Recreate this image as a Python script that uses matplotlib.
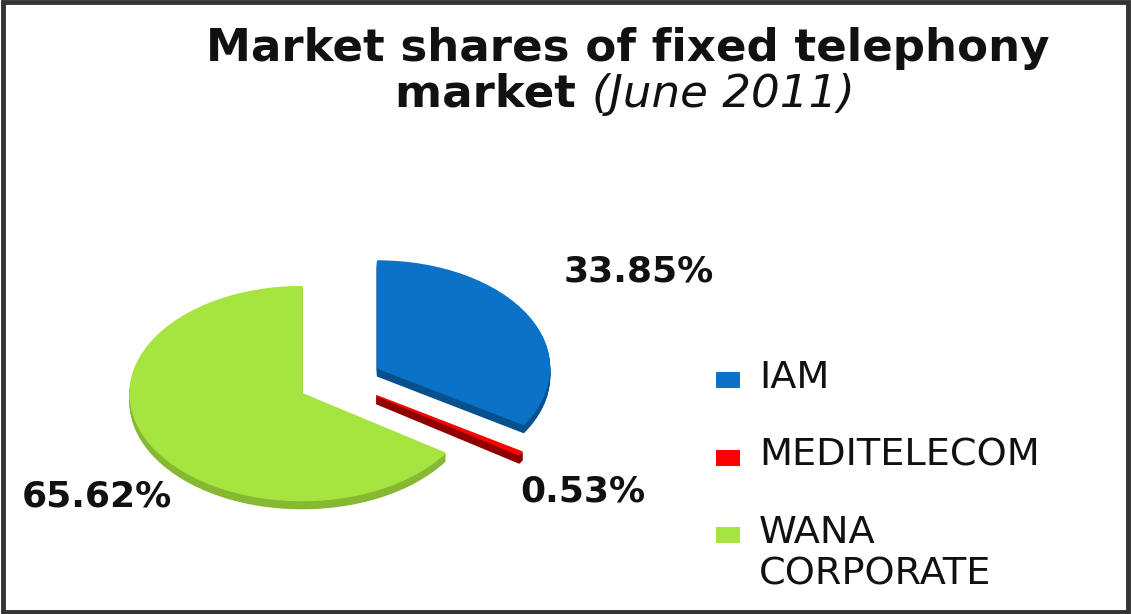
import numpy as np
import matplotlib.pyplot as plt
from matplotlib.patches import Rectangle

# dados
operadores = ["IAM", "MEDITELECOM", "WANA\nCORPORATE"]
parts = [33.85, 0.53, 65.62]
rotulos = ["33.85%", "0.53%", "65.62%"]

cores = ["#0A73C8", "#FF0000", "#A6E43F"]
cores_lado = ["#06508E", "#8E0000", "#86B832"]
explode = [0.25, 0.25, 0.25]

W, H = 1131, 614
fig = plt.figure(figsize=(W / 100, H / 100), dpi=100)
fig.patch.set_facecolor("white")

# eixo do pie: centro (sem explode) em (340, 381) px, raio 172 px em x e 107 px em y
cx, cy, sx, sy = 340, 381, 172.0, 107.0
top_px = 150
ax = fig.add_axes([0, 0, 700 / W, (H - top_px) / H])

# "espessura" 3D: camadas da mesma torta deslocadas para baixo, mais escuras
for dz in np.linspace(0.075, 0.01, 8):
    lados, _ = ax.pie(parts, colors=cores_lado, explode=explode, startangle=90,
                      counterclock=False, center=(0, -dz))
    for w, c in zip(lados, cores_lado):
        w.set_edgecolor(c)
        w.set_linewidth(1.0)
wedges, _ = ax.pie(parts, colors=cores, explode=explode, startangle=90,
                   counterclock=False)
for w, c in zip(wedges, cores):
    w.set_edgecolor(c)
    w.set_linewidth(1.0)

ax.set_aspect("auto")
ax.set_xlim(-cx / sx, (700 - cx) / sx)
ax.set_ylim(-(H - cy) / sy, (cy - top_px) / sy)
ax.axis("off")

# rótulos de porcentagem ao longo da bissetriz de cada fatia
dist = [(1.99, 2.1), (1.68, 1.91), (1.6, 2.3)]
for w, txt, (kx, ky) in zip(wedges, rotulos, dist):
    ang = np.deg2rad((w.theta1 + w.theta2) / 2)
    ax.text(kx * np.cos(ang), ky * np.sin(ang), txt, ha="center", va="center",
            fontsize=26, fontweight="bold", color="#111111")

# título
fig.text(628 / W, 1 - 48 / H, "Market shares of fixed telephony", ha="center",
         va="center", fontsize=32.5, fontweight="bold", color="#111111")
t_a = fig.text(0, 1 - 94 / H, "market ", ha="left", va="center",
               fontsize=32.5, fontweight="bold", color="#111111")
t_b = fig.text(0, 1 - 94 / H, "(June 2011)", ha="left", va="center",
               fontsize=32.5, fontstyle="italic", color="#111111")
r = fig.canvas.get_renderer()
wa = t_a.get_window_extent(r).width
wb = t_b.get_window_extent(r).width
x0 = 625 - (wa + wb) / 2
t_a.set_x(x0 / W)
t_b.set_x((x0 + wa) / W)

# legenda manual (quadrado alinhado com a primeira linha do texto)
leg_y = [380, 458, 535]
for nome, c, yy in zip(operadores, cores, leg_y):
    fig.add_artist(Rectangle((716 / W, 1 - (yy + 8) / H), 24 / W, 16 / H,
                             transform=fig.transFigure, facecolor=c,
                             edgecolor="none"))
    fig.text(759 / W, 1 - (yy - 20) / H, nome, ha="left", va="top",
             fontsize=27.5, color="#111111", linespacing=1.2)

# moldura
fig.add_artist(Rectangle((0.003, 0.003), 0.994, 0.993, transform=fig.transFigure,
                         fill=False, edgecolor="#333333", linewidth=3.5))

fig.savefig("out.png", dpi=100, facecolor="white")
